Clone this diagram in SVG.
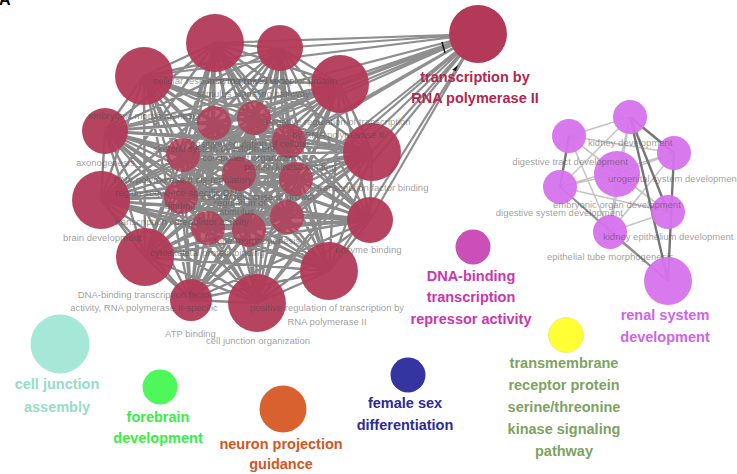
<svg xmlns="http://www.w3.org/2000/svg" width="737" height="474" viewBox="0 0 737 474">
  <style>
    text { font-family: "Liberation Sans", Arial, sans-serif; }
    .edge { fill: none; stroke: #8a8a8a; stroke-width: 2.4; stroke-linecap: round; }
    .hub { fill: none; stroke: #8f8f8f; stroke-width: 2.2; }
    .pl { fill: none; stroke: #c4c4c4; stroke-width: 1.5; }
    .pd { fill: none; stroke: #767676; stroke-width: 2.4; }
    .pm { fill: none; stroke: #8e8e8e; stroke-width: 1.8; }
    .red { fill: #b23a58; }
    .red.in { fill-opacity: 0.82; }
    .red.out { fill-opacity: 0.95; }
    .pur { fill: #d672ec; fill-opacity: 0.95; }
    .lbl { fill: #4a4a4a; fill-opacity: 0.55; font-size: 9.5px; }
    .title { font-weight: bold; font-size: 14.5px; text-anchor: middle; }
  </style>

  <!-- panel letter, cut by the top edge -->
  <text x="-1" y="5" font-family="Liberation Serif, serif" font-weight="bold" font-size="16" fill="#000">A</text>

  <g id="connectors">
    <!-- dense term cluster: every pair linked -->
    <path class="edge" d="M144 76L215 43M144 76L280 48M144 76L340 84M144 76L372 152M144 76L370 220M144 76L329 271M144 76L257 303M144 76L191 300M144 76L145 257M144 76L101 200M144 76L105 131M144 76L214 123M144 76L254 118M144 76L289 141M144 76L183 155M144 76L239 174M144 76L296 179M144 76L181 197M144 76L208 228M144 76L249 230M144 76L287 217
M215 43L280 48M215 43L340 84M215 43L372 152M215 43L370 220M215 43L329 271M215 43L257 303M215 43L191 300M215 43L145 257M215 43L101 200M215 43L105 131M215 43L214 123M215 43L254 118M215 43L289 141M215 43L183 155M215 43L239 174M215 43L296 179M215 43L181 197M215 43L208 228M215 43L249 230M215 43L287 217
M280 48L340 84M280 48L372 152M280 48L370 220M280 48L329 271M280 48L257 303M280 48L191 300M280 48L145 257M280 48L101 200M280 48L105 131M280 48L214 123M280 48L254 118M280 48L289 141M280 48L183 155M280 48L239 174M280 48L296 179M280 48L181 197M280 48L208 228M280 48L249 230M280 48L287 217
M340 84L372 152M340 84L370 220M340 84L329 271M340 84L257 303M340 84L191 300M340 84L145 257M340 84L101 200M340 84L105 131M340 84L214 123M340 84L254 118M340 84L289 141M340 84L183 155M340 84L239 174M340 84L296 179M340 84L181 197M340 84L208 228M340 84L249 230M340 84L287 217
M372 152L370 220M372 152L329 271M372 152L257 303M372 152L191 300M372 152L145 257M372 152L101 200M372 152L105 131M372 152L214 123M372 152L254 118M372 152L289 141M372 152L183 155M372 152L239 174M372 152L296 179M372 152L181 197M372 152L208 228M372 152L249 230M372 152L287 217
M370 220L329 271M370 220L257 303M370 220L191 300M370 220L145 257M370 220L101 200M370 220L105 131M370 220L214 123M370 220L254 118M370 220L289 141M370 220L183 155M370 220L239 174M370 220L296 179M370 220L181 197M370 220L208 228M370 220L249 230M370 220L287 217
M329 271L257 303M329 271L191 300M329 271L145 257M329 271L101 200M329 271L105 131M329 271L214 123M329 271L254 118M329 271L289 141M329 271L183 155M329 271L239 174M329 271L296 179M329 271L181 197M329 271L208 228M329 271L249 230M329 271L287 217
M257 303L191 300M257 303L145 257M257 303L101 200M257 303L105 131M257 303L214 123M257 303L254 118M257 303L289 141M257 303L183 155M257 303L239 174M257 303L296 179M257 303L181 197M257 303L208 228M257 303L249 230M257 303L287 217
M191 300L145 257M191 300L101 200M191 300L105 131M191 300L214 123M191 300L254 118M191 300L289 141M191 300L183 155M191 300L239 174M191 300L296 179M191 300L181 197M191 300L208 228M191 300L249 230M191 300L287 217
M145 257L101 200M145 257L105 131M145 257L214 123M145 257L254 118M145 257L289 141M145 257L183 155M145 257L239 174M145 257L296 179M145 257L181 197M145 257L208 228M145 257L249 230M145 257L287 217
M101 200L105 131M101 200L214 123M101 200L254 118M101 200L289 141M101 200L183 155M101 200L239 174M101 200L296 179M101 200L181 197M101 200L208 228M101 200L249 230M101 200L287 217
M105 131L214 123M105 131L254 118M105 131L289 141M105 131L183 155M105 131L239 174M105 131L296 179M105 131L181 197M105 131L208 228M105 131L249 230M105 131L287 217
M214 123L254 118M214 123L289 141M214 123L183 155M214 123L239 174M214 123L296 179M214 123L181 197M214 123L208 228M214 123L249 230M214 123L287 217
M254 118L289 141M254 118L183 155M254 118L239 174M254 118L296 179M254 118L181 197M254 118L208 228M254 118L249 230M254 118L287 217
M289 141L183 155M289 141L239 174M289 141L296 179M289 141L181 197M289 141L208 228M289 141L249 230M289 141L287 217
M183 155L239 174M183 155L296 179M183 155L181 197M183 155L208 228M183 155L249 230M183 155L287 217
M239 174L296 179M239 174L181 197M239 174L208 228M239 174L249 230M239 174L287 217
M296 179L181 197M296 179L208 228M296 179L249 230M296 179L287 217
M181 197L208 228M181 197L249 230M181 197L287 217
M208 228L249 230M208 228L287 217M249 230L287 217"/>
    <!-- links into the RNA polymerase II hub -->
    <path class="hub" d="M478 34L144 76M478 34L215 43M478 34L280 48M478 34L340 84M478 34L372 152M478 34L370 220M478 34L329 271M478 34L257 303M478 34L105 131M478 34L101 200M478 34L214 123M478 34L254 118M478 34L289 141M478 34L183 155M478 34L239 174M478 34L296 179M478 34L287 217M478 34L249 230"/>
    <path d="M442 42L445 53" stroke="#111" stroke-width="1.4"/>
    <path d="M452 70L458 65L456 71Z" fill="#111"/>

    <!-- renal cluster -->
    <path class="pl" d="M569 136L630 117M569 136L617 174M630 117L617 174M630 117L560 187M569 136L668 212M560 187L617 174M560 187L674 153M560 187L668 212M617 174L668 212M617 174L610 232M668 212L610 232M674 153L617 174M569 136L610 232M560 187L610 232M630 117L610 232M674 153L610 232M569 136L674 153"/>
    <path class="pm" d="M610 232L668 281M560 187L668 281"/>
    <path class="pd" d="M630 117L668 281M630 117L668 212M630 117L674 153M569 136L560 187"/>
    <path class="pd" d="M674 153L668 281" stroke-width="3.2"/>
  </g>

  <!-- term nodes of the large cluster -->
  <g id="n-o1"><circle class="red out" cx="144" cy="76" r="29"/></g>
  <g id="n-o2"><circle class="red out" cx="215" cy="43" r="29"/></g>
  <g id="n-o3"><circle class="red out" cx="280" cy="48" r="23"/></g>
  <g id="n-o4"><circle class="red out" cx="340" cy="84" r="29"/></g>
  <g id="n-o5"><circle class="red out" cx="372" cy="152" r="29"/></g>
  <g id="n-o6"><circle class="red out" cx="370" cy="220" r="23"/></g>
  <g id="n-o7"><circle class="red out" cx="329" cy="271" r="29"/></g>
  <g id="n-o8"><circle class="red out" cx="257" cy="303" r="29"/></g>
  <g id="n-o9"><circle class="red out" cx="191" cy="300" r="21"/></g>
  <g id="n-o10"><circle class="red out" cx="145" cy="257" r="29"/></g>
  <g id="n-o11"><circle class="red out" cx="101" cy="200" r="29"/></g>
  <g id="n-o12"><circle class="red out" cx="105" cy="131" r="23"/></g>
  <g id="n-i1"><circle class="red in" cx="214" cy="123" r="17"/></g>
  <g id="n-i2"><circle class="red in" cx="254" cy="118" r="17"/></g>
  <g id="n-i3"><circle class="red in" cx="289" cy="141" r="17"/></g>
  <g id="n-i4"><circle class="red in" cx="183" cy="155" r="17"/></g>
  <g id="n-i5"><circle class="red in" cx="239" cy="174" r="17"/></g>
  <g id="n-i6"><circle class="red in" cx="296" cy="179" r="17"/></g>
  <g id="n-i7"><circle class="red in" cx="181" cy="197" r="17"/></g>
  <g id="n-i8"><circle class="red in" cx="208" cy="228" r="17"/></g>
  <g id="n-i9"><circle class="red in" cx="249" cy="230" r="17"/></g>
  <g id="n-i10"><circle class="red in" cx="287" cy="217" r="17"/></g>

  <!-- term labels of the large cluster -->
  <g id="cluster-labels" class="lbl">
    <text x="223" y="83.5" text-anchor="middle">cellular response to growth factor</text>
    <text x="214" y="96.5" text-anchor="middle">stimulus</text>
    <text x="272" y="83.5" text-anchor="middle">enzyme linked receptor protein</text>
    <text x="272" y="96.5" text-anchor="middle">signaling pathway</text>
    <text x="88" y="118.5">embryonic morphogenesis</text>
    <text x="338" y="124.5" text-anchor="middle">negative regulation of transcription</text>
    <text x="338" y="137.5" text-anchor="middle">by RNA polymerase II</text>
    <text x="250" y="146.5" text-anchor="middle">positive regulation of cellular</text>
    <text x="153" y="151.5">skeletal system development</text>
    <text x="253" y="160.5" text-anchor="middle">component organization</text>
    <text x="76" y="166">axonogenesis</text>
    <text x="244" y="169.5">protein kinase binding</text>
    <text x="183" y="182.5" text-anchor="middle">RNA polymerase II cis-regulatory</text>
    <text x="179" y="196" text-anchor="middle">region sequence-specific DNA</text>
    <text x="180" y="208.5" text-anchor="middle">binding</text>
    <text x="317" y="191">transcription factor binding</text>
    <text x="258" y="200" text-anchor="middle">cellular response to growth</text>
    <text x="240" y="206" text-anchor="middle">regulation of</text>
    <text x="237" y="214.5" text-anchor="middle">stimulus</text>
    <text x="115" y="224.5">transcription coregulator activity</text>
    <text x="63" y="240.5">brain development</text>
    <text x="214" y="243.5">tube morphogenesis</text>
    <text x="335" y="252.5">enzyme binding</text>
    <text x="150" y="255.5">cytoskeletal protein binding</text>
    <text x="145" y="297.5" text-anchor="middle">DNA-binding transcription factor</text>
    <text x="144" y="310.5" text-anchor="middle">activity, RNA polymerase II-specific</text>
    <text x="327" y="310.5" text-anchor="middle">positive regulation of transcription by</text>
    <text x="327" y="324.5" text-anchor="middle">RNA polymerase II</text>
    <text x="165" y="336.5">ATP binding</text>
    <text x="206" y="343.5">cell junction organization</text>
  </g>

  <g id="n-rna-pol-ii">
    <circle cx="478" cy="34" r="29" fill="#b23a58"/>
    <text class="title" x="475" y="82" fill="#b0284e">transcription by</text>
    <text class="title" x="475" y="103" fill="#b0284e">RNA polymerase II</text>
  </g>

  <!-- renal cluster nodes -->
  <g id="n-p1"><circle class="pur" cx="630" cy="117" r="17"/></g>
  <g id="n-p2"><circle class="pur" cx="569" cy="136" r="17"/></g>
  <g id="n-p3"><circle class="pur" cx="674" cy="153" r="17"/></g>
  <g id="n-p4"><circle class="pur" cx="617" cy="174" r="23"/></g>
  <g id="n-p5"><circle class="pur" cx="560" cy="187" r="17"/></g>
  <g id="n-p6"><circle class="pur" cx="668" cy="212" r="17"/></g>
  <g id="n-p7"><circle class="pur" cx="610" cy="232" r="17"/></g>
  <g id="renal-labels" class="lbl">
    <text x="588" y="145.5">kidney development</text>
    <text x="628" y="164.5" text-anchor="end">digestive tract development</text>
    <text x="608" y="181.5">urogenital system development</text>
    <text x="553" y="207.5">embryonic organ development</text>
    <text x="623" y="215.5" text-anchor="end">digestive system development</text>
    <text x="603" y="239.5">kidney epithelium development</text>
    <text x="547" y="259.5">epithelial tube morphogenesis</text>
  </g>
  <g id="n-renal-system-development">
    <circle class="pur" cx="668" cy="281" r="24"/>
    <text class="title" x="665" y="320" fill="#d063e8">renal system</text>
    <text class="title" x="665" y="342" fill="#d063e8">development</text>
  </g>

  <g id="n-dna-binding-repressor">
    <circle cx="473" cy="247" r="17.5" fill="#cc4fb8"/>
    <text class="title" x="471" y="281" fill="#c937ad">DNA-binding</text>
    <text class="title" x="471" y="302" fill="#c937ad">transcription</text>
    <text class="title" x="471" y="324" fill="#c937ad">repressor activity</text>
  </g>

  <g id="n-tmrp-kinase">
    <circle cx="566" cy="335" r="17.5" fill="#ffff33" stroke="#e6e68a" stroke-width="0.8"/>
    <text class="title" x="564" y="368" fill="#7ea35f">transmembrane</text>
    <text class="title" x="564" y="390" fill="#7ea35f">receptor protein</text>
    <text class="title" x="564" y="412" fill="#7ea35f">serine/threonine</text>
    <text class="title" x="564" y="434" fill="#7ea35f">kinase signaling</text>
    <text class="title" x="564" y="456" fill="#7ea35f">pathway</text>
  </g>

  <g id="n-female-sex-differentiation">
    <circle cx="408" cy="375" r="17.5" fill="#3535a2"/>
    <text class="title" x="405" y="408" fill="#2b2b98">female sex</text>
    <text class="title" x="405" y="430" fill="#2b2b98">differentiation</text>
  </g>

  <g id="n-cell-junction-assembly">
    <circle cx="60" cy="344" r="29.5" fill="#a6e8d8"/>
    <text class="title" x="57" y="389" fill="#94ddca">cell junction</text>
    <text class="title" x="57" y="412" fill="#94ddca">assembly</text>
  </g>

  <g id="n-forebrain-development">
    <circle cx="160" cy="387" r="17.5" fill="#4ef75a"/>
    <text class="title" x="158" y="422" fill="#36ee46">forebrain</text>
    <text class="title" x="158" y="443" fill="#36ee46">development</text>
  </g>

  <g id="n-neuron-projection-guidance">
    <circle cx="283" cy="409" r="23.5" fill="#d9602f"/>
    <text class="title" x="281" y="449" fill="#d2561f">neuron projection</text>
    <text class="title" x="281" y="469" fill="#d2561f">guidance</text>
  </g>
</svg>
